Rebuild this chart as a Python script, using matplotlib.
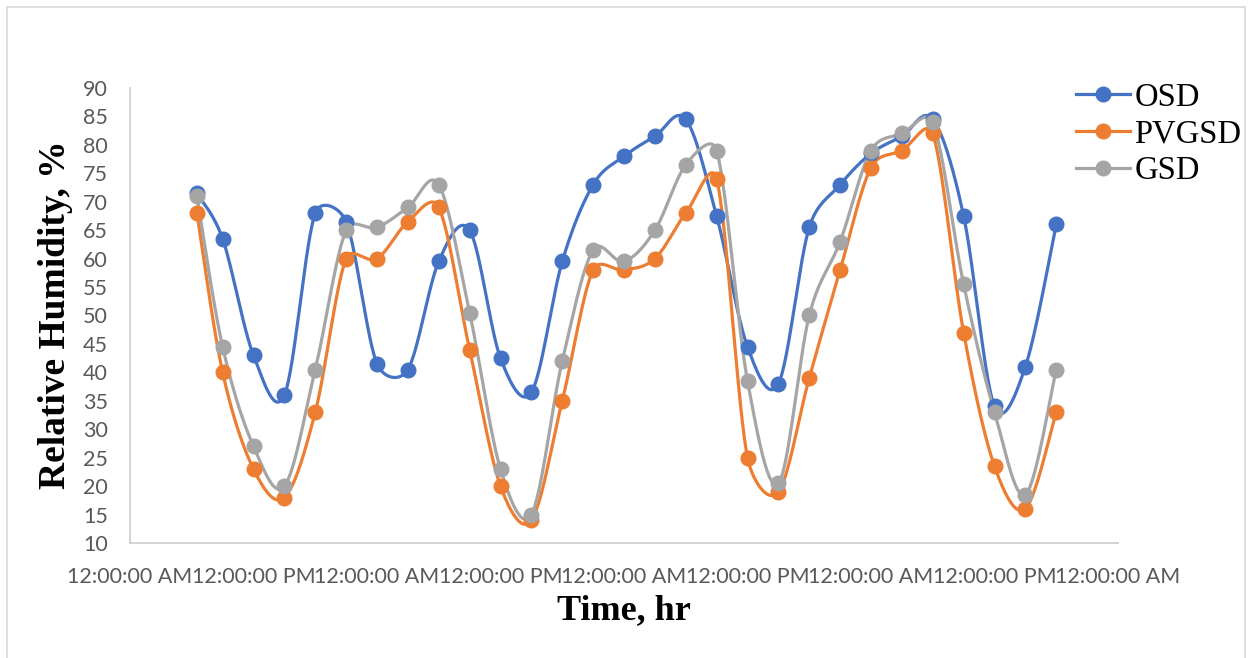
import numpy as np
import matplotlib
matplotlib.use("Agg")
import matplotlib.pyplot as plt
from matplotlib.lines import Line2D
from matplotlib.patches import Rectangle

# Sampling times (hours from the first midnight)
hours = [6.5, 9, 12, 15, 18, 21, 24, 27, 30, 33, 36, 39, 42, 45, 48, 51, 54,
         57, 60, 63, 66, 69, 72, 75, 78, 81, 84, 87, 90]

# Relative humidity, %
osd = [71.5, 63.5, 43, 36, 68, 66.5, 41.5, 40.5, 59.5, 65, 42.5, 36.5, 59.5,
       73, 78, 81.5, 84.5, 67.5, 44.5, 38, 65.5, 73, 78.5, 81.5, 84.5, 67.5,
       34, 41, 66]
pvgsd = [68, 40, 23, 18, 33, 60, 60, 66.5, 69, 44, 20, 14, 35, 58, 58, 60, 68,
         74, 25, 19, 39, 58, 76, 79, 82, 47, 23.5, 16, 33]
gsd = [71, 44.5, 27, 20, 40.5, 65, 65.5, 69, 73, 50.5, 23, 15, 42, 61.5, 59.5,
       65, 76.5, 79, 38.5, 20.5, 50, 63, 79, 82, 84, 55.5, 33, 18.5, 40.5]

series_names = ["OSD", "PVGSD", "GSD"]
series_colors = ["#4472C4", "#ED7D31", "#A5A5A5"]

# x-axis ticks every half day
tick_days = [0, 0.5, 1, 1.5, 2, 2.5, 3, 3.5, 4]
tick_labels = ["12:00:00 AM", "12:00:00 PM", "12:00:00 AM", "12:00:00 PM",
               "12:00:00 AM", "12:00:00 PM", "12:00:00 AM", "12:00:00 PM",
               "12:00:00 AM"]
y_ticks = list(range(10, 91, 5))


def smooth_curve(ax, x, y, n=30):
    """Smoothed line: cubic Bezier segments built in display space, with
    control-arm lengths capped at half the segment length."""
    to_disp = ax.transData
    pts = to_disp.transform(np.column_stack([x, y]).astype(float))
    m = len(pts)
    out = []
    for i in range(m - 1):
        p0 = pts[i - 1] if i > 0 else pts[i]
        p1 = pts[i]
        p2 = pts[i + 1]
        p3 = pts[i + 2] if i + 2 < m else pts[i + 1]
        d12 = np.hypot(*(p2 - p1))
        d02 = np.hypot(*(p2 - p0))
        d13 = np.hypot(*(p3 - p1))
        f = 1 / 6.0
        g = 1 / 6.0
        if d02 > 0 and d02 / 6.0 > d12 / 2.0:
            f = d12 / 2.0 / d02
        if d13 > 0 and d13 / 6.0 > d12 / 2.0:
            g = d12 / 2.0 / d13
        c1 = p1 + (p2 - p0) * f
        c2 = p2 - (p3 - p1) * g
        t = np.linspace(0, 1, n, endpoint=(i == m - 2))[:, None]
        seg = ((1 - t) ** 3) * p1 + 3 * ((1 - t) ** 2) * t * c1 \
            + 3 * (1 - t) * t ** 2 * c2 + t ** 3 * p2
        out.append(seg)
    data = to_disp.inverted().transform(np.concatenate(out))
    return data[:, 0], data[:, 1]


W, H = 1252, 658
fig = plt.figure(figsize=(W / 100, H / 100), dpi=100)
fig.patch.set_facecolor("white")

left, right, top, bottom = 130, 1118, 88, 543
ax = fig.add_axes([left / W, 1 - bottom / H, (right - left) / W, (bottom - top) / H])
ax.set_xlim(0, 4)
ax.set_ylim(10, 90)

days = np.array(hours) / 24.0
for vals, name, col in zip([osd, pvgsd, gsd], series_names, series_colors):
    sx, sy = smooth_curve(ax, days, vals)
    ax.plot(sx, sy, color=col, lw=2.3, solid_capstyle="round", zorder=2)
    ax.plot(days, vals, linestyle="none", marker="o", markersize=10.5,
            color=col, zorder=3)

ax.set_xlim(0, 4)
ax.set_ylim(10, 90)
ax.set_xticks(tick_days)
ax.set_xticklabels(tick_labels)
ax.set_yticks(y_ticks)

for s in ["top", "right"]:
    ax.spines[s].set_visible(False)
for s in ["left", "bottom"]:
    ax.spines[s].set_color("#d0d0d0")
    ax.spines[s].set_linewidth(1.3)

ax.tick_params(axis="both", length=0, labelcolor="#595959", labelsize=15.5)
ax.tick_params(axis="y", pad=16)
ax.tick_params(axis="x", pad=17)
for lab in ax.get_xticklabels() + ax.get_yticklabels():
    lab.set_fontfamily("Lato")

fig.text(56 / W, 1 - 315 / H, "Relative Humidity, %", rotation=90,
         ha="center", va="center", fontsize=27, fontweight="bold",
         fontfamily="Liberation Serif")
fig.text(624 / W, 1 - 611 / H, "Time, hr", ha="center", va="center",
         fontsize=26, fontweight="bold", fontfamily="Liberation Serif")

handles = [Line2D([], [], color=c, lw=2.3, marker="o", markersize=10.5)
           for c in series_colors]
leg = fig.legend(handles, series_names, loc="upper left",
                 bbox_to_anchor=(1060 / W, 1 - 66 / H), frameon=False,
                 borderpad=0, handlelength=1.63, handletextpad=0.15,
                 labelspacing=0.19,
                 prop={"family": "Liberation Serif", "size": 23.5})

fig.patches.append(Rectangle((7 / W, -0.05), (1245 - 7) / W, 1 - 7 / H + 0.05,
                             transform=fig.transFigure, fill=False,
                             edgecolor="#d9d9d9", lw=1.2))

fig.savefig("out.png", dpi=100)
